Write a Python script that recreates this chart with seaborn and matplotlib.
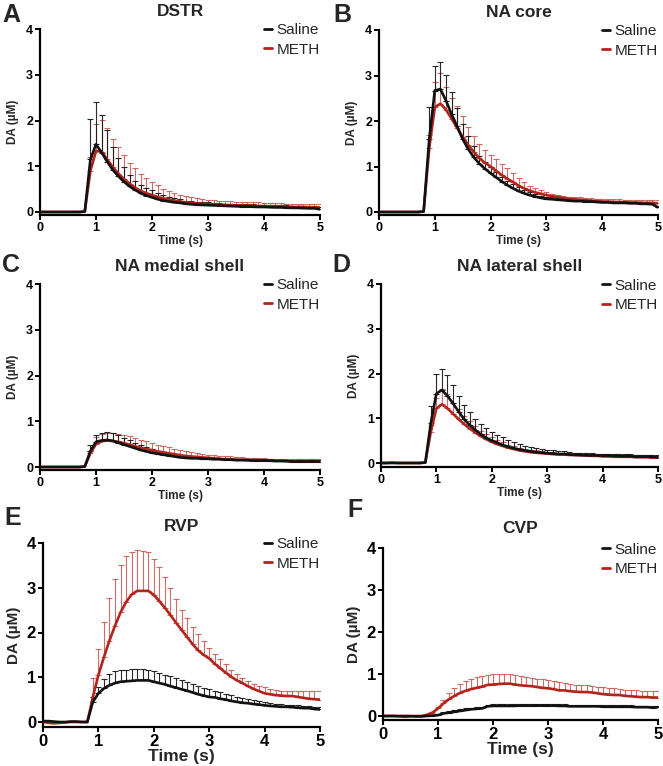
import numpy as np
import pandas as pd
import matplotlib
matplotlib.use("Agg")
import matplotlib.pyplot as plt
import seaborn as sns
from matplotlib.lines import Line2D

# ---------------- data ----------------
time = np.round(np.arange(0, 5.01, 0.1), 1)
base = [0, 0, 0, 0, 0, 0, 0, 0, 0.01]
zero9 = [0] * 9

titles = ["DSTR", "NA core", "NA medial shell", "NA lateral shell", "RVP", "CVP"]
letters = ["A", "B", "C", "D", "E", "F"]
groups = ["Saline", "METH"]

dstr_saline = base + [1.15, 1.48, 1.30, 1.10, 0.92, 0.78, 0.66, 0.56, 0.48, 0.41, 0.36,
                      0.32, 0.28, 0.25, 0.23, 0.21, 0.20, 0.18, 0.17, 0.16, 0.155,
                      0.15, 0.145, 0.14, 0.135, 0.13, 0.125, 0.12, 0.12, 0.115, 0.11,
                      0.11, 0.105, 0.10, 0.10, 0.095, 0.09, 0.09, 0.085, 0.08, 0.08, 0.06]
dstr_saline_sem = zero9 + [0.88, 0.92, 0.83, 0.70, 0.51, 0.40, 0.32, 0.24, 0.20, 0.19, 0.16,
                           0.15, 0.14, 0.12, 0.10, 0.09, 0.08, 0.07, 0.07, 0.06, 0.06,
                           0.06, 0.05, 0.05, 0.05, 0.05, 0.05, 0.05, 0.05, 0.05, 0.05,
                           0.05, 0.05, 0.05, 0.05, 0.05, 0.05, 0.05, 0.05, 0.05, 0.05, 0.05]
dstr_meth = base + [0.90, 1.33, 1.32, 1.15, 0.98, 0.84, 0.72, 0.62, 0.53, 0.46, 0.41,
                    0.37, 0.33, 0.30, 0.27, 0.25, 0.23, 0.21, 0.20, 0.19, 0.18,
                    0.17, 0.165, 0.16, 0.155, 0.15, 0.145, 0.14, 0.14, 0.135, 0.13,
                    0.13, 0.125, 0.12, 0.12, 0.115, 0.11, 0.11, 0.11, 0.105, 0.10, 0.10]
dstr_meth_sem = zero9 + [0.30, 0.60, 0.70, 0.69, 0.62, 0.58, 0.53, 0.46, 0.43, 0.38, 0.34,
                         0.29, 0.25, 0.21, 0.19, 0.17, 0.15, 0.14, 0.13, 0.12, 0.11,
                         0.10, 0.10, 0.09, 0.09, 0.09, 0.08, 0.08, 0.08, 0.08, 0.08,
                         0.07, 0.07, 0.07, 0.07, 0.07, 0.07, 0.07, 0.07, 0.07, 0.07, 0.07]

core_saline = base + [1.60, 2.67, 2.70, 2.45, 2.15, 1.88, 1.60, 1.38, 1.20, 1.06, 0.95,
                      0.85, 0.76, 0.67, 0.59, 0.52, 0.46, 0.41, 0.37, 0.34, 0.31,
                      0.29, 0.28, 0.27, 0.26, 0.25, 0.24, 0.24, 0.23, 0.23, 0.22,
                      0.21, 0.21, 0.20, 0.20, 0.20, 0.19, 0.19, 0.18, 0.18, 0.17, 0.10]
core_saline_sem = zero9 + [0.70, 0.53, 0.60, 0.57, 0.48, 0.40, 0.34, 0.28, 0.24, 0.16, 0.15,
                           0.13, 0.12, 0.11, 0.10, 0.09, 0.08, 0.07, 0.06, 0.06, 0.05,
                           0.04, 0.04, 0.04, 0.04, 0.04, 0.04, 0.04, 0.04, 0.04, 0.04,
                           0.04, 0.04, 0.04, 0.04, 0.04, 0.04, 0.04, 0.04, 0.04, 0.04, 0.04]
core_meth = base + [1.40, 2.30, 2.38, 2.25, 2.05, 1.85, 1.65, 1.47, 1.32, 1.18, 1.08,
                    1.00, 0.90, 0.81, 0.73, 0.66, 0.58, 0.52, 0.47, 0.43, 0.40,
                    0.37, 0.35, 0.33, 0.31, 0.29, 0.28, 0.27, 0.26, 0.25, 0.24,
                    0.23, 0.23, 0.22, 0.22, 0.21, 0.21, 0.21, 0.20, 0.20, 0.20, 0.19]
core_meth_sem = zero9 + [0.30, 0.55, 0.67, 0.50, 0.45, 0.47, 0.45, 0.40, 0.35, 0.32, 0.29,
                         0.26, 0.26, 0.24, 0.24, 0.20, 0.17, 0.13, 0.11, 0.10, 0.08,
                         0.06, 0.05, 0.05, 0.05, 0.05, 0.05, 0.05, 0.05, 0.05, 0.05,
                         0.06, 0.06, 0.06, 0.06, 0.06, 0.06, 0.06, 0.06, 0.07, 0.07, 0.08]

med_saline = base + [0.35, 0.55, 0.58, 0.59, 0.57, 0.53, 0.49, 0.45, 0.41, 0.37, 0.34,
                     0.31, 0.29, 0.27, 0.25, 0.23, 0.21, 0.20, 0.19, 0.19, 0.18,
                     0.18, 0.17, 0.17, 0.16, 0.16, 0.15, 0.15, 0.15, 0.14, 0.14,
                     0.14, 0.14, 0.13, 0.13, 0.13, 0.12, 0.12, 0.12, 0.12, 0.12, 0.12]
med_saline_sem = zero9 + [0.12, 0.15, 0.17, 0.17, 0.17, 0.16, 0.15, 0.13, 0.11, 0.10, 0.09,
                          0.08, 0.07, 0.06, 0.06, 0.05, 0.05, 0.04, 0.04, 0.04, 0.04,
                          0.03, 0.03, 0.03, 0.03, 0.03, 0.03, 0.03, 0.03, 0.03, 0.03,
                          0.03, 0.03, 0.03, 0.03, 0.03, 0.03, 0.03, 0.03, 0.03, 0.03, 0.03]
med_meth = base + [0.30, 0.50, 0.56, 0.58, 0.57, 0.55, 0.52, 0.49, 0.45, 0.42, 0.39,
                   0.37, 0.34, 0.32, 0.30, 0.28, 0.26, 0.24, 0.23, 0.22, 0.21,
                   0.20, 0.19, 0.18, 0.17, 0.17, 0.16, 0.16, 0.15, 0.15, 0.15,
                   0.15, 0.14, 0.14, 0.14, 0.13, 0.13, 0.13, 0.13, 0.13, 0.13, 0.13]
med_meth_sem = zero9 + [0.05, 0.15, 0.16, 0.16, 0.17, 0.18, 0.18, 0.18, 0.18, 0.18, 0.18,
                        0.16, 0.15, 0.14, 0.13, 0.12, 0.11, 0.10, 0.09, 0.08, 0.08,
                        0.07, 0.07, 0.06, 0.06, 0.06, 0.05, 0.05, 0.05, 0.05, 0.04,
                        0.04, 0.04, 0.04, 0.04, 0.04, 0.04, 0.04, 0.04, 0.04, 0.04, 0.04]

lat_saline = base + [0.90, 1.55, 1.63, 1.50, 1.33, 1.15, 0.98, 0.85, 0.74, 0.64, 0.56,
                     0.50, 0.45, 0.40, 0.36, 0.33, 0.30, 0.28, 0.26, 0.24, 0.23,
                     0.22, 0.21, 0.20, 0.20, 0.19, 0.18, 0.18, 0.17, 0.17, 0.17,
                     0.16, 0.16, 0.16, 0.15, 0.15, 0.15, 0.14, 0.14, 0.14, 0.14, 0.13]
lat_saline_sem = zero9 + [0.37, 0.43, 0.47, 0.47, 0.41, 0.35, 0.32, 0.28, 0.25, 0.24, 0.23,
                          0.20, 0.18, 0.17, 0.15, 0.13, 0.13, 0.11, 0.10, 0.09, 0.08,
                          0.07, 0.07, 0.06, 0.06, 0.06, 0.05, 0.05, 0.05, 0.05, 0.04,
                          0.04, 0.04, 0.04, 0.04, 0.04, 0.04, 0.04, 0.04, 0.04, 0.04, 0.04]
lat_meth = [0, 0, 0.01, 0, 0, 0, 0, 0, 0.01] + [0.70, 1.22, 1.31, 1.22, 1.10, 0.98, 0.87, 0.77, 0.68, 0.60, 0.53,
                                                 0.47, 0.42, 0.38, 0.34, 0.31, 0.28, 0.26, 0.24, 0.23, 0.22,
                                                 0.21, 0.20, 0.19, 0.19, 0.18, 0.18, 0.17, 0.17, 0.16, 0.16,
                                                 0.15, 0.15, 0.14, 0.14, 0.14, 0.14, 0.13, 0.13, 0.13, 0.12, 0.12]
lat_meth_sem = zero9 + [0.15, 0.23, 0.34, 0.33, 0.25, 0.22, 0.18, 0.16, 0.14, 0.12, 0.11,
                        0.10, 0.09, 0.08, 0.07, 0.07, 0.06, 0.06, 0.05, 0.05, 0.05,
                        0.04, 0.04, 0.04, 0.04, 0.04, 0.04, 0.04, 0.04, 0.04, 0.04,
                        0.04, 0.04, 0.04, 0.04, 0.04, 0.04, 0.04, 0.04, 0.04, 0.04, 0.04]

rvp_saline = [0.02, 0.02, 0.01, 0, 0, 0.01, 0.01, 0, 0] + [0.45, 0.64, 0.75, 0.82, 0.87, 0.90, 0.91, 0.92, 0.93, 0.93, 0.93,
                                                          0.90, 0.87, 0.84, 0.80, 0.77, 0.73, 0.70, 0.66, 0.62, 0.59,
                                                          0.56, 0.55, 0.52, 0.50, 0.47, 0.45, 0.43, 0.42, 0.40, 0.39,
                                                          0.37, 0.36, 0.35, 0.34, 0.34, 0.33, 0.32, 0.31, 0.31, 0.29, 0.28]
rvp_saline_sem = zero9 + [0.10, 0.15, 0.22, 0.25, 0.26, 0.26, 0.26, 0.26, 0.25, 0.25, 0.24,
                          0.24, 0.23, 0.22, 0.22, 0.21, 0.21, 0.20, 0.20, 0.19, 0.18,
                          0.17, 0.15, 0.14, 0.13, 0.13, 0.11, 0.10, 0.09, 0.09, 0.07,
                          0.07, 0.06, 0.06, 0.06, 0.05, 0.05, 0.05, 0.05, 0.05, 0.05, 0.05]
rvp_meth = [0, -0.02, -0.03, -0.02, -0.01, 0, 0, 0, 0] + [0.56, 1.05, 1.45, 1.82, 2.15, 2.45, 2.68, 2.85, 2.93, 2.93, 2.93,
                                                         2.84, 2.70, 2.55, 2.39, 2.22, 2.06, 1.90, 1.74, 1.60, 1.50,
                                                         1.42, 1.30, 1.20, 1.10, 1.01, 0.93, 0.87, 0.80, 0.74, 0.69,
                                                         0.64, 0.62, 0.60, 0.59, 0.58, 0.58, 0.56, 0.54, 0.52, 0.51, 0.50]
rvp_meth_sem = zero9 + [0.42, 0.59, 0.78, 0.95, 1.04, 1.06, 1.02, 0.96, 0.91, 0.90, 0.88,
                        0.81, 0.76, 0.69, 0.60, 0.53, 0.44, 0.43, 0.39, 0.37, 0.31,
                        0.24, 0.23, 0.21, 0.19, 0.16, 0.14, 0.12, 0.11, 0.12, 0.12,
                        0.14, 0.12, 0.11, 0.11, 0.12, 0.11, 0.13, 0.15, 0.17, 0.18, 0.19]

cvp_saline = [0, 0, 0, 0, 0, 0, -0.01, -0.01, 0] + [0.01, 0.02, 0.06, 0.08, 0.10, 0.12, 0.14, 0.16, 0.17, 0.18, 0.23,
                                                    0.24, 0.24, 0.24, 0.24, 0.24, 0.25, 0.25, 0.25, 0.25, 0.25,
                                                    0.25, 0.25, 0.24, 0.24, 0.23, 0.23, 0.23, 0.23, 0.23, 0.23,
                                                    0.22, 0.22, 0.22, 0.22, 0.22, 0.22, 0.21, 0.21, 0.21, 0.20, 0.21]
cvp_saline_sem = zero9 + [0.01, 0.02, 0.03, 0.03, 0.04, 0.04, 0.04, 0.04, 0.04, 0.04, 0.04,
                          0.04, 0.04, 0.04, 0.04, 0.04, 0.04, 0.04, 0.04, 0.04, 0.04,
                          0.04, 0.04, 0.04, 0.04, 0.04, 0.04, 0.04, 0.04, 0.04, 0.04,
                          0.04, 0.04, 0.04, 0.04, 0.04, 0.04, 0.04, 0.04, 0.04, 0.04, 0.04]
cvp_meth = [0, 0, 0, -0.01, -0.02, -0.01, 0, 0, 0.03] + [0.08, 0.18, 0.30, 0.40, 0.48, 0.55, 0.60, 0.64, 0.67, 0.70, 0.74,
                                                        0.75, 0.76, 0.77, 0.77, 0.75, 0.73, 0.72, 0.71, 0.69, 0.67,
                                                        0.66, 0.64, 0.61, 0.61, 0.59, 0.58, 0.57, 0.57, 0.56, 0.54,
                                                        0.52, 0.51, 0.50, 0.50, 0.48, 0.47, 0.46, 0.45, 0.45, 0.44, 0.44]
cvp_meth_sem = zero9 + [0.02, 0.04, 0.08, 0.15, 0.19, 0.21, 0.23, 0.24, 0.25, 0.26, 0.24,
                        0.24, 0.24, 0.23, 0.22, 0.23, 0.23, 0.22, 0.20, 0.20, 0.20,
                        0.19, 0.19, 0.19, 0.18, 0.18, 0.17, 0.17, 0.17, 0.16, 0.16,
                        0.16, 0.16, 0.16, 0.15, 0.15, 0.15, 0.15, 0.15, 0.15, 0.16, 0.16]

panel_data = [
    (dstr_saline, dstr_saline_sem, dstr_meth, dstr_meth_sem),
    (core_saline, core_saline_sem, core_meth, core_meth_sem),
    (med_saline, med_saline_sem, med_meth, med_meth_sem),
    (lat_saline, lat_saline_sem, lat_meth, lat_meth_sem),
    (rvp_saline, rvp_saline_sem, rvp_meth, rvp_meth_sem),
    (cvp_saline, cvp_saline_sem, cvp_meth, cvp_meth_sem),
]

# ---------------- style ----------------
sns.set_theme(style="ticks")
plt.rcParams["font.family"] = ["Liberation Sans", "DejaVu Sans"]

BLACK = "#111111"
RED = "#B3241C"
RED_ERR = "#C8524C"

W, H = 663, 766
fig = plt.figure(figsize=(W / 100, H / 100), dpi=100)

# axes boxes in pixels: left, right, top(y=4), bottom (x-axis line), y0 pixel
boxes = [
    (40, 320, 29, 215, 212),
    (379, 658, 30, 215, 212),
    (40, 320, 284, 470, 467),
    (381, 658, 284, 467, 463),
    (43, 320, 543, 727, 722),
    (383, 658, 548, 720, 716),
]
letter_pos = [(2, 22), (333, 22), (2, 272), (332, 272), (4, 525), (347, 517)]
title_pad = [9.5, 9.5, 9.5, 9.5, 8.5, 11]

for i, (box, pdata) in enumerate(zip(boxes, panel_data)):
    l, r, t, b, y0 = box
    ax = fig.add_axes([l / W, (H - b) / H, (r - l) / W, (b - t) / H])
    per_unit = (y0 - t) / 4.0
    ymin = -(b - y0) / per_unit
    bottom_row = i >= 4

    sal, sal_sem, meth, meth_sem = [np.asarray(v, dtype=float) for v in pdata]
    df = pd.DataFrame({
        "Time": np.concatenate([time, time]),
        "DA": np.concatenate([sal, meth]),
        "Group": ["Saline"] * len(time) + ["METH"] * len(time),
    })

    for mean, sem, ecol, alpha in [(meth, meth_sem, RED_ERR, 0.85), (sal, sal_sem, BLACK, 0.9)]:
        m = sem > 0
        ax.errorbar(time[m], mean[m], yerr=[np.zeros(m.sum()), sem[m]], fmt="none",
                    ecolor=ecol, elinewidth=0.8, capsize=2.2, capthick=0.8, alpha=alpha,
                    zorder=2)

    sns.lineplot(data=df, x="Time", y="DA", hue="Group", hue_order=["METH", "Saline"],
                 palette={"Saline": BLACK, "METH": RED}, linewidth=1.9, legend=False,
                 ax=ax, zorder=3)

    ax.set_xlim(0, 5)
    ax.set_ylim(ymin, 4.0)
    ax.set_xticks([0, 1, 2, 3, 4, 5])
    ax.set_yticks([0, 1, 2, 3, 4])
    sns.despine(ax=ax)
    for s in ["left", "bottom"]:
        ax.spines[s].set_linewidth(1.6)
        ax.spines[s].set_color("black")
    ax.spines["left"].set_bounds(ymin, 4.0)

    tick_fs = 12 if bottom_row else 9
    lab_fs = 12.5 if bottom_row else 8.5
    ax.tick_params(direction="out", length=3.5, width=1.4, colors="black",
                   labelsize=tick_fs, pad=1.5)
    for lab in ax.get_xticklabels() + ax.get_yticklabels():
        lab.set_fontweight("bold")
    ax.set_xlabel("Time (s)", fontsize=lab_fs, fontweight="bold", labelpad=1 if not bottom_row else 0)
    ax.set_ylabel("DA (µM)", fontsize=(11 if bottom_row else 8.5), fontweight="bold",
                  labelpad=4 if bottom_row else 5)
    ax.set_title(titles[i], fontsize=12.5, fontweight="bold", pad=title_pad[i])

    handles = [Line2D([], [], color=BLACK, lw=2.0), Line2D([], [], color=RED, lw=2.0)]
    ax.legend(handles, groups, loc="upper right", bbox_to_anchor=(1.0, 1.03),
              frameon=False, fontsize=11, handlelength=0.55, handletextpad=0.3,
              labelspacing=0.35, borderaxespad=0, borderpad=0)

    fig.text(letter_pos[i][0] / W, 1 - letter_pos[i][1] / H, letters[i],
             fontsize=18, fontweight="bold", ha="left", va="baseline")

fig.savefig("out.png", dpi=100, facecolor="white")
